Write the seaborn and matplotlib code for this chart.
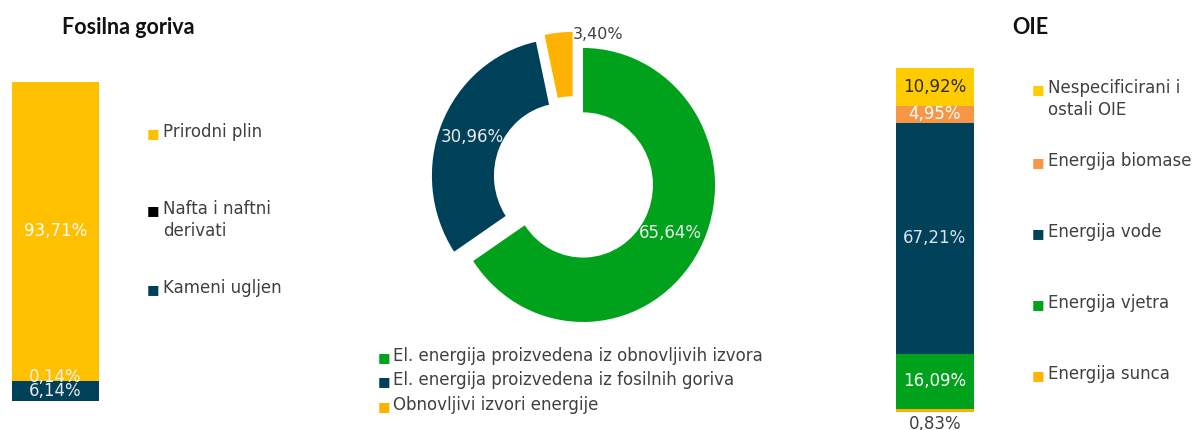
import matplotlib
matplotlib.use("Agg")
import matplotlib.pyplot as plt
import numpy as np
import pandas as pd
import seaborn as sns

W, H = 1196, 430

# --- data -------------------------------------------------------------
fossil_labels = ["Prirodni plin", "Nafta i naftni\nderivati", "Kameni ugljen"]
fossil_values = [93.71, 0.14, 6.14]          # top -> bottom
fossil_colors = ["#FFC000", "#000000", "#00415A"]
fossil_text = ["93,71%", "0,14%", "6,14%"]

donut_labels = [
    "El. energija proizvedena iz obnovljivih izvora",
    "El. energija proizvedena iz fosilnih goriva",
    "Obnovljivi izvori energije",
]
donut_values = [65.64, 30.96, 3.40]
donut_colors = ["#00A21C", "#00415A", "#FFB300"]
donut_text = ["65,64%", "30,96%", "3,40%"]

oie_labels = ["Nespecificirani i\nostali OIE", "Energija biomase", "Energija vode",
              "Energija vjetra", "Energija sunca"]
oie_values = [10.92, 4.95, 67.21, 16.09, 0.83]   # top -> bottom
oie_colors = ["#FFCC00", "#F79646", "#00415A", "#00A21C", "#FFB300"]
oie_text = ["10,92%", "4,95%", "67,21%", "16,09%", "0,83%"]

TXT = "#404040"
FS = 12
LINE_PX = 22

sns.set_theme(style="white")
plt.rcParams["font.family"] = ["DejaVu Sans"]


def box(x0, y0, x1, y1):
    return [x0 / W, 1 - y1 / H, (x1 - x0) / W, (y1 - y0) / H]


def stacked_bar(ax, labels, values, colors):
    # overlapping cumulative bars, top segment drawn first
    cum = np.cumsum(values[::-1])[::-1]
    df = pd.DataFrame({"grp": ["a"] * len(values), "seg": labels, "cum": cum})
    sns.barplot(data=df, x="grp", y="cum", hue="seg", hue_order=labels,
                palette=colors, saturation=1, dodge=False, width=1,
                linewidth=0, legend=False, ax=ax)
    ax.set_xlim(-0.5, 0.5)
    ax.set_ylim(0, 100)
    ax.axis("off")
    return cum - np.array(values)


def legend_items(xsq, xtxt, baselines, labels, colors):
    # baselines: pixel y of the first text line of each item
    for y, lab, c in zip(baselines, labels, colors):
        extra = LINE_PX * lab.count("\n")
        fig.text(xsq / W, 1 - y / H, "\u25a0", color=c, fontsize=9.5,
                 va="baseline", ha="left")
        fig.text(xtxt / W, 1 - (y + extra) / H, lab, color=TXT, fontsize=FS,
                 va="baseline", ha="left", linespacing=1.3)


fig = plt.figure(figsize=(W / 100, H / 100), dpi=100)

# --- left: fossil fuels ----------------------------------------------
ax1 = fig.add_axes(box(12, 82, 99, 401))
b1 = stacked_bar(ax1, fossil_labels, fossil_values, fossil_colors)
lab_col = ["white", "#F0F0F0", "#E8E8E8"]
for v, b, t, c in zip(fossil_values, b1, fossil_text, lab_col):
    ax1.text(0, b + v / 2 + (1.2 if v < 1 else 0), t, ha="center", va="center",
             color=c, fontsize=FS)
fig.text(128 / W, 1 - 27 / H, "Fosilna goriva", ha="center", va="center",
         fontsize=15.5, fontweight="bold", family="Lato", color="#111111")
legend_items(147, 163, [137, 214, 293], fossil_labels, fossil_colors)

# --- middle: donut ----------------------------------------------------
cx, cy, rx, ry = 573.7, 179.8, 132, 137
ax2 = fig.add_axes(box(cx - 1.3 * rx, cy - 1.3 * ry, cx + 1.3 * rx, cy + 1.3 * ry))
wedges, _ = ax2.pie(donut_values, colors=donut_colors, startangle=90,
                    counterclock=False, explode=[0.08] * 3, radius=1,
                    wedgeprops=dict(width=0.47, linewidth=0))
ax2.set_aspect("auto")
ax2.set_xlim(-1.3, 1.3)
ax2.set_ylim(-1.3, 1.3)
for w, t, v in zip(wedges, donut_text, donut_values):
    wx, wy = w.center
    if v > 10:
        th = np.deg2rad((w.theta1 + w.theta2) / 2)
        ax2.text(wx + 0.75 * np.cos(th), wy + 0.75 * np.sin(th), t, ha="center",
                 va="center", color="#EAEAEA", fontsize=FS)
    else:
        th = np.deg2rad(w.theta1)
        ax2.text(wx + 0.98 * np.cos(th), wy + 0.98 * np.sin(th), t, ha="left",
                 va="center", color=TXT, fontsize=11.5)
legend_items(378, 393, [361, 385, 410], donut_labels, donut_colors)

# --- right: renewables ------------------------------------------------
ax3 = fig.add_axes(box(896, 68, 974, 412))
b3 = stacked_bar(ax3, oie_labels, oie_values, oie_colors)
oie_lab_col = ["#2A2A2A", "white", "#D8E4EA", "white", TXT]
for v, b, t, c in zip(oie_values, b3, oie_text, oie_lab_col):
    if v < 1:
        ax3.annotate(t, (0, b), xytext=(0, -8.5), textcoords="offset points",
                     ha="center", va="center", color=c, fontsize=FS,
                     annotation_clip=False)
    else:
        ax3.text(0, b + v / 2, t, ha="center", va="center", color=c, fontsize=FS)
fig.text(1030 / W, 1 - 27 / H, "OIE", ha="center", va="center",
         fontsize=15.5, fontweight="bold", family="Lato", color="#111111")
legend_items(1032, 1048, [93, 166, 237, 308, 379], oie_labels, oie_colors)

fig.savefig("out.png", dpi=100)
